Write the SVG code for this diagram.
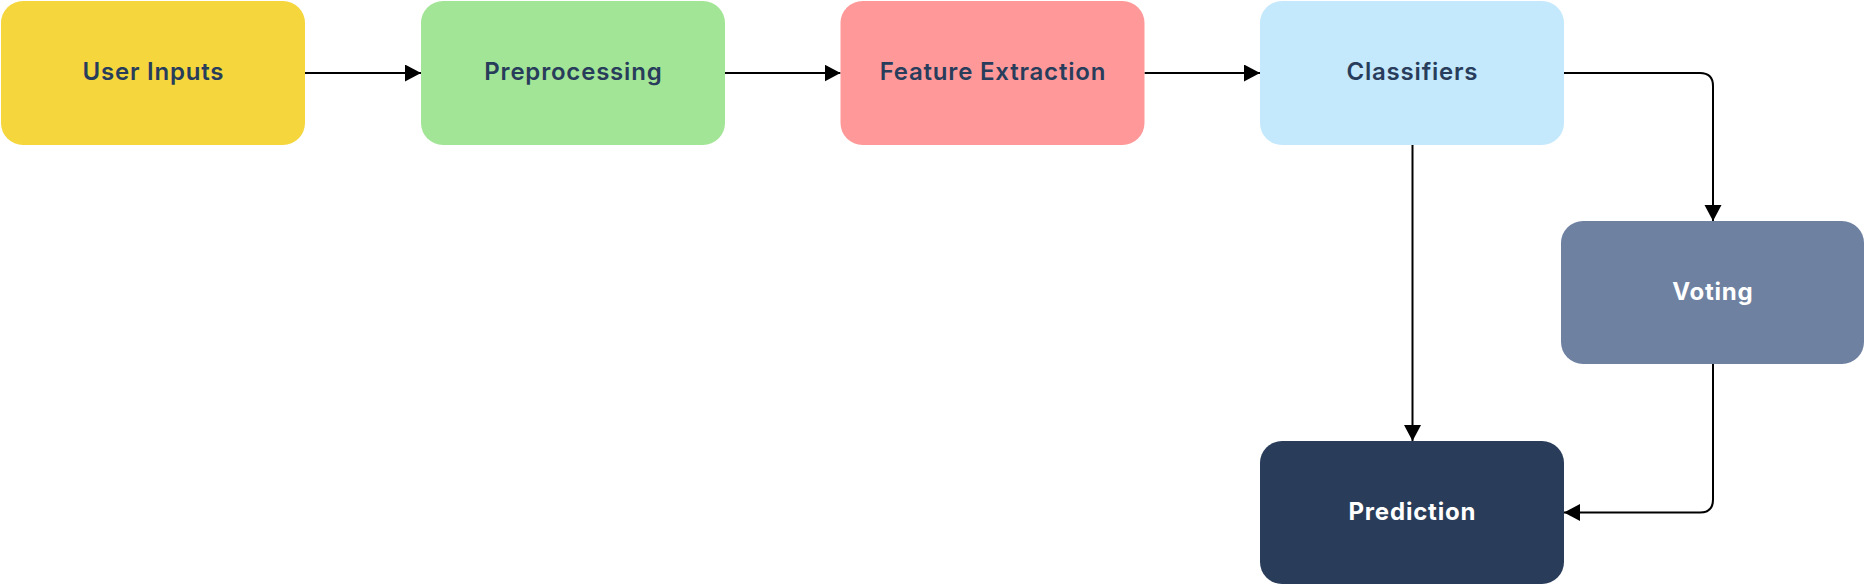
<svg xmlns="http://www.w3.org/2000/svg" width="1864" height="584" viewBox="0 0 1864 584">
<style>
.lbl{font-family:Inter,"Open Sans","Liberation Sans",sans-serif;font-weight:600;font-size:24px;letter-spacing:0.8px;text-anchor:middle;dominant-baseline:central}
.dark{fill:#283D5B}
.light{fill:#FFFFFF;font-weight:700}
.edge{fill:none;stroke:#000;stroke-width:2}
</style>
<defs>
<marker id="arr" markerUnits="userSpaceOnUse" markerWidth="17" markerHeight="18" refX="16" refY="8.5" orient="auto">
<path d="M0,0 L16,8.5 L0,17 Z" fill="#000"/>
</marker>
</defs>
<rect width="1864" height="584" fill="#FFFFFF"/>
<g id="connectors">
<path class="edge" d="M305,73 H421" marker-end="url(#arr)"/>
<path class="edge" d="M725,73 H840.5" marker-end="url(#arr)"/>
<path class="edge" d="M1144.5,73 H1260" marker-end="url(#arr)"/>
<path class="edge" d="M1564,73 H1700 Q1713,73 1713,86 V221" marker-end="url(#arr)"/>
<path class="edge" d="M1412.5,145 V441" marker-end="url(#arr)"/>
<path class="edge" d="M1713,364 V499.5 Q1713,512.5 1700,512.5 H1564" marker-end="url(#arr)"/>
</g>
<g id="user-inputs">
<rect x="1" y="1" width="304" height="144" rx="22" fill="#F5D63D"/>
<text class="lbl dark" x="153.4" y="71.5">User Inputs</text>
</g>
<g id="preprocessing">
<rect x="421" y="1" width="304" height="144" rx="22" fill="#A3E596"/>
<text class="lbl dark" x="573.4" y="71.5">Preprocessing</text>
</g>
<g id="feature-extraction">
<rect x="840.5" y="1" width="304" height="144" rx="22" fill="#FF9999"/>
<text class="lbl dark" x="992.9" y="71.5">Feature Extraction</text>
</g>
<g id="classifiers">
<rect x="1260" y="1" width="304" height="144" rx="22" fill="#C4E8FC"/>
<text class="lbl dark" x="1412.4" y="71.5">Classifiers</text>
</g>
<g id="voting">
<rect x="1561" y="221" width="303" height="143" rx="22" fill="#6E81A1"/>
<text class="lbl light" x="1712.9" y="291.5">Voting</text>
</g>
<g id="prediction">
<rect x="1260" y="441" width="304" height="143" rx="22" fill="#293D5A"/>
<text class="lbl light" x="1412.4" y="511.5">Prediction</text>
</g>
</svg>
